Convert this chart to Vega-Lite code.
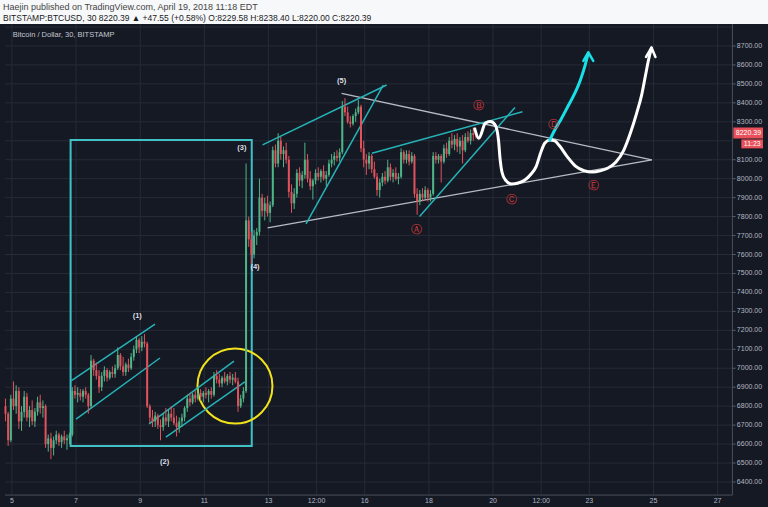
{
  "$schema": "https://vega.github.io/schema/vega-lite/v6.json",
  "width": 768,
  "height": 483,
  "autosize": {"type": "none"},
  "padding": {"left": 0, "top": 24, "right": 0, "bottom": 0},
  "background": "#f7f8fa",
  "config": {
    "view": {"fill": "#151924", "stroke": null},
    "font": "Liberation Sans",
    "axis": {"disable": true}
  },
  "title": {
    "text": "Haejin published on TradingView.com, April 19, 2018 11:18 EDT",
    "subtitle": "BITSTAMP:BTCUSD, 30  8220.39 ▲ +47.55 (+0.58%)  O:8229.58  H:8238.40  L:8220.00  C:8220.39",
    "anchor": "start", "frame": "group", "orient": "top", "offset": 1, "dx": 3,
    "font": "Liberation Sans", "fontSize": 9, "fontWeight": "normal", "color": "#444444",
    "subtitleFont": "Liberation Sans", "subtitleFontSize": 8.5, "subtitleFontWeight": "normal", "subtitleColor": "#1a1a1a", "subtitlePadding": 2
  },
  "datasets": {
    "candles": [
      {"t":4.8,"o":6800,"h":6840,"l":6720,"c":6760},
      {"t":4.883,"o":6760,"h":6770,"l":6590,"c":6620},
      {"t":4.967,"o":6620,"h":6860,"l":6610,"c":6840},
      {"t":5.05,"o":6840,"h":6930,"l":6780,"c":6800},
      {"t":5.133,"o":6800,"h":6910,"l":6760,"c":6880},
      {"t":5.217,"o":6880,"h":6900,"l":6680,"c":6720},
      {"t":5.3,"o":6720,"h":6800,"l":6670,"c":6770},
      {"t":5.383,"o":6770,"h":6880,"l":6740,"c":6850},
      {"t":5.467,"o":6850,"h":6870,"l":6720,"c":6740},
      {"t":5.55,"o":6740,"h":6800,"l":6690,"c":6780},
      {"t":5.633,"o":6780,"h":6830,"l":6700,"c":6720},
      {"t":5.717,"o":6720,"h":6790,"l":6690,"c":6770},
      {"t":5.8,"o":6770,"h":6850,"l":6750,"c":6820},
      {"t":5.883,"o":6820,"h":6860,"l":6760,"c":6790},
      {"t":5.967,"o":6790,"h":6830,"l":6740,"c":6800},
      {"t":6.05,"o":6800,"h":6810,"l":6580,"c":6600},
      {"t":6.133,"o":6600,"h":6650,"l":6560,"c":6630},
      {"t":6.217,"o":6630,"h":6660,"l":6520,"c":6580},
      {"t":6.3,"o":6580,"h":6640,"l":6540,"c":6620},
      {"t":6.383,"o":6620,"h":6670,"l":6600,"c":6650},
      {"t":6.467,"o":6650,"h":6660,"l":6590,"c":6610},
      {"t":6.55,"o":6610,"h":6650,"l":6580,"c":6640},
      {"t":6.633,"o":6640,"h":6670,"l":6600,"c":6620},
      {"t":6.717,"o":6620,"h":6650,"l":6570,"c":6630},
      {"t":6.8,"o":6630,"h":6660,"l":6600,"c":6650},
      {"t":6.883,"o":6650,"h":6900,"l":6640,"c":6880},
      {"t":6.967,"o":6880,"h":6910,"l":6840,"c":6860},
      {"t":7.05,"o":6860,"h":6900,"l":6820,"c":6870},
      {"t":7.133,"o":6870,"h":6890,"l":6830,"c":6850},
      {"t":7.217,"o":6850,"h":6890,"l":6820,"c":6880},
      {"t":7.3,"o":6880,"h":6900,"l":6840,"c":6860},
      {"t":7.383,"o":6860,"h":6870,"l":6760,"c":6800},
      {"t":7.467,"o":6800,"h":7070,"l":6790,"c":7040},
      {"t":7.55,"o":7040,"h":7050,"l":6960,"c":6990},
      {"t":7.633,"o":6990,"h":7030,"l":6940,"c":6960},
      {"t":7.717,"o":6960,"h":6990,"l":6870,"c":6900},
      {"t":7.8,"o":6900,"h":6980,"l":6880,"c":6960},
      {"t":7.883,"o":6960,"h":7010,"l":6930,"c":6990},
      {"t":7.967,"o":6990,"h":7000,"l":6930,"c":6950},
      {"t":8.05,"o":6950,"h":6990,"l":6940,"c":6980},
      {"t":8.133,"o":6980,"h":7010,"l":6950,"c":6970},
      {"t":8.217,"o":6970,"h":7020,"l":6950,"c":7000},
      {"t":8.3,"o":7000,"h":7110,"l":6990,"c":7070},
      {"t":8.383,"o":7070,"h":7080,"l":6990,"c":7010},
      {"t":8.467,"o":7010,"h":7060,"l":6960,"c":6980},
      {"t":8.55,"o":6980,"h":7030,"l":6960,"c":7020},
      {"t":8.633,"o":7020,"h":7050,"l":6980,"c":7000},
      {"t":8.717,"o":7000,"h":7080,"l":6990,"c":7060},
      {"t":8.8,"o":7060,"h":7120,"l":7040,"c":7100},
      {"t":8.883,"o":7100,"h":7170,"l":7080,"c":7150},
      {"t":8.967,"o":7150,"h":7160,"l":7080,"c":7110},
      {"t":9.05,"o":7110,"h":7170,"l":7090,"c":7140},
      {"t":9.133,"o":7140,"h":7180,"l":7110,"c":7130},
      {"t":9.217,"o":7130,"h":7140,"l":6790,"c":6800},
      {"t":9.3,"o":6800,"h":6810,"l":6710,"c":6740},
      {"t":9.383,"o":6740,"h":6780,"l":6690,"c":6720},
      {"t":9.467,"o":6720,"h":6770,"l":6690,"c":6750},
      {"t":9.55,"o":6750,"h":6760,"l":6680,"c":6700},
      {"t":9.633,"o":6700,"h":6730,"l":6620,"c":6690},
      {"t":9.717,"o":6690,"h":6760,"l":6670,"c":6740},
      {"t":9.8,"o":6740,"h":6790,"l":6700,"c":6720},
      {"t":9.883,"o":6720,"h":6780,"l":6690,"c":6760},
      {"t":9.967,"o":6760,"h":6800,"l":6720,"c":6740},
      {"t":10.05,"o":6740,"h":6790,"l":6700,"c":6710},
      {"t":10.133,"o":6710,"h":6750,"l":6640,"c":6690},
      {"t":10.217,"o":6690,"h":6740,"l":6660,"c":6720},
      {"t":10.3,"o":6720,"h":6760,"l":6690,"c":6740},
      {"t":10.383,"o":6740,"h":6800,"l":6720,"c":6790},
      {"t":10.467,"o":6790,"h":6860,"l":6770,"c":6840},
      {"t":10.55,"o":6840,"h":6870,"l":6800,"c":6820},
      {"t":10.633,"o":6820,"h":6870,"l":6810,"c":6860},
      {"t":10.717,"o":6860,"h":6880,"l":6820,"c":6840},
      {"t":10.8,"o":6840,"h":6890,"l":6830,"c":6870},
      {"t":10.883,"o":6870,"h":6890,"l":6830,"c":6850},
      {"t":10.967,"o":6850,"h":6880,"l":6820,"c":6870},
      {"t":11.05,"o":6870,"h":6900,"l":6840,"c":6860},
      {"t":11.133,"o":6860,"h":6890,"l":6820,"c":6880},
      {"t":11.217,"o":6880,"h":6900,"l":6840,"c":6860},
      {"t":11.3,"o":6860,"h":6980,"l":6850,"c":6960},
      {"t":11.383,"o":6960,"h":6990,"l":6920,"c":6940},
      {"t":11.467,"o":6940,"h":6970,"l":6900,"c":6920},
      {"t":11.55,"o":6920,"h":6960,"l":6900,"c":6950},
      {"t":11.633,"o":6950,"h":6980,"l":6920,"c":6930},
      {"t":11.717,"o":6930,"h":6970,"l":6910,"c":6960},
      {"t":11.8,"o":6960,"h":6980,"l":6920,"c":6940},
      {"t":11.883,"o":6940,"h":6970,"l":6910,"c":6950},
      {"t":11.967,"o":6950,"h":6980,"l":6920,"c":6930},
      {"t":12.05,"o":6930,"h":6950,"l":6770,"c":6800},
      {"t":12.133,"o":6800,"h":6860,"l":6790,"c":6840},
      {"t":12.217,"o":6840,"h":6900,"l":6820,"c":6880},
      {"t":12.3,"o":6880,"h":8080,"l":6870,"c":7780},
      {"t":12.383,"o":7780,"h":7800,"l":7640,"c":7680},
      {"t":12.467,"o":7680,"h":7720,"l":7550,"c":7600},
      {"t":12.55,"o":7600,"h":7730,"l":7580,"c":7700},
      {"t":12.633,"o":7700,"h":7740,"l":7650,"c":7720},
      {"t":12.717,"o":7720,"h":8000,"l":7700,"c":7900},
      {"t":12.8,"o":7900,"h":7920,"l":7800,"c":7830},
      {"t":12.883,"o":7830,"h":7900,"l":7780,"c":7870},
      {"t":12.967,"o":7870,"h":7910,"l":7800,"c":7820},
      {"t":13.05,"o":7820,"h":7880,"l":7770,"c":7860},
      {"t":13.133,"o":7860,"h":8170,"l":7850,"c":8150},
      {"t":13.217,"o":8150,"h":8180,"l":8060,"c":8080},
      {"t":13.3,"o":8080,"h":8240,"l":8060,"c":8200},
      {"t":13.383,"o":8200,"h":8220,"l":8100,"c":8130},
      {"t":13.467,"o":8130,"h":8170,"l":8060,"c":8150},
      {"t":13.55,"o":8150,"h":8190,"l":8080,"c":8100},
      {"t":13.633,"o":8100,"h":8120,"l":7900,"c":7930},
      {"t":13.717,"o":7930,"h":7970,"l":7820,"c":7870},
      {"t":13.8,"o":7870,"h":7950,"l":7840,"c":7920},
      {"t":13.883,"o":7920,"h":8050,"l":7900,"c":8030},
      {"t":13.967,"o":8030,"h":8060,"l":7960,"c":7990},
      {"t":14.05,"o":7990,"h":8040,"l":7950,"c":8020},
      {"t":14.133,"o":8020,"h":8190,"l":8000,"c":8100},
      {"t":14.217,"o":8100,"h":8130,"l":7980,"c":8000},
      {"t":14.3,"o":8000,"h":8040,"l":7940,"c":7960},
      {"t":14.383,"o":7960,"h":8000,"l":7890,"c":7990},
      {"t":14.467,"o":7990,"h":8050,"l":7970,"c":8030},
      {"t":14.55,"o":8030,"h":8060,"l":7990,"c":8010},
      {"t":14.633,"o":8010,"h":8050,"l":7980,"c":8040},
      {"t":14.717,"o":8040,"h":8070,"l":7990,"c":8000},
      {"t":14.8,"o":8000,"h":8040,"l":7960,"c":8020},
      {"t":14.883,"o":8020,"h":8100,"l":8010,"c":8080},
      {"t":14.967,"o":8080,"h":8130,"l":8060,"c":8100},
      {"t":15.05,"o":8100,"h":8140,"l":8070,"c":8120},
      {"t":15.133,"o":8120,"h":8150,"l":8090,"c":8110},
      {"t":15.217,"o":8110,"h":8160,"l":8090,"c":8140},
      {"t":15.3,"o":8140,"h":8410,"l":8130,"c":8380},
      {"t":15.383,"o":8380,"h":8425,"l":8330,"c":8350},
      {"t":15.467,"o":8350,"h":8380,"l":8290,"c":8300},
      {"t":15.55,"o":8300,"h":8330,"l":8270,"c":8290},
      {"t":15.633,"o":8290,"h":8340,"l":8280,"c":8330},
      {"t":15.717,"o":8330,"h":8370,"l":8300,"c":8350},
      {"t":15.8,"o":8350,"h":8415,"l":8340,"c":8380},
      {"t":15.883,"o":8380,"h":8390,"l":8140,"c":8160},
      {"t":15.967,"o":8160,"h":8200,"l":8060,"c":8100},
      {"t":16.05,"o":8100,"h":8130,"l":8020,"c":8080},
      {"t":16.133,"o":8080,"h":8140,"l":8050,"c":8120},
      {"t":16.217,"o":8120,"h":8130,"l":8030,"c":8050},
      {"t":16.3,"o":8050,"h":8090,"l":8000,"c":8010},
      {"t":16.383,"o":8010,"h":8030,"l":7910,"c":7940},
      {"t":16.467,"o":7940,"h":8000,"l":7900,"c":7980},
      {"t":16.55,"o":7980,"h":8030,"l":7960,"c":8010},
      {"t":16.633,"o":8010,"h":8040,"l":7970,"c":7990},
      {"t":16.717,"o":7990,"h":8100,"l":7980,"c":8060},
      {"t":16.8,"o":8060,"h":8080,"l":7990,"c":8010},
      {"t":16.883,"o":8010,"h":8050,"l":7980,"c":8030},
      {"t":16.967,"o":8030,"h":8060,"l":7990,"c":8000},
      {"t":17.05,"o":8000,"h":8030,"l":7970,"c":8010},
      {"t":17.133,"o":8010,"h":8160,"l":8000,"c":8140},
      {"t":17.217,"o":8140,"h":8150,"l":8080,"c":8100},
      {"t":17.3,"o":8100,"h":8150,"l":8080,"c":8130},
      {"t":17.383,"o":8130,"h":8150,"l":8070,"c":8090},
      {"t":17.467,"o":8090,"h":8140,"l":8080,"c":8120},
      {"t":17.55,"o":8120,"h":8130,"l":7900,"c":7920},
      {"t":17.633,"o":7920,"h":7950,"l":7810,"c":7880},
      {"t":17.717,"o":7880,"h":7940,"l":7860,"c":7920},
      {"t":17.8,"o":7920,"h":7950,"l":7880,"c":7900},
      {"t":17.883,"o":7900,"h":7960,"l":7890,"c":7940},
      {"t":17.967,"o":7940,"h":7950,"l":7880,"c":7900},
      {"t":18.05,"o":7900,"h":7940,"l":7880,"c":7920},
      {"t":18.133,"o":7920,"h":8140,"l":7910,"c":8120},
      {"t":18.217,"o":8120,"h":8140,"l":8080,"c":8100},
      {"t":18.3,"o":8100,"h":8130,"l":8080,"c":8120},
      {"t":18.383,"o":8120,"h":8130,"l":7980,"c":8090},
      {"t":18.467,"o":8090,"h":8180,"l":8080,"c":8160},
      {"t":18.55,"o":8160,"h":8190,"l":8110,"c":8130},
      {"t":18.633,"o":8130,"h":8220,"l":8120,"c":8200},
      {"t":18.717,"o":8200,"h":8240,"l":8160,"c":8180},
      {"t":18.8,"o":8180,"h":8230,"l":8150,"c":8210},
      {"t":18.883,"o":8210,"h":8240,"l":8140,"c":8170},
      {"t":18.967,"o":8170,"h":8220,"l":8130,"c":8200},
      {"t":19.05,"o":8200,"h":8230,"l":8080,"c":8150},
      {"t":19.133,"o":8150,"h":8240,"l":8140,"c":8220},
      {"t":19.217,"o":8220,"h":8250,"l":8190,"c":8200},
      {"t":19.3,"o":8200,"h":8260,"l":8180,"c":8240},
      {"t":19.383,"o":8240,"h":8270,"l":8200,"c":8230},
      {"t":19.467,"o":8230,"h":8250,"l":8210,"c":8220}
    ],
    "hgrid": [{"p":6400},{"p":6500},{"p":6600},{"p":6700},{"p":6800},{"p":6900},{"p":7000},{"p":7100},{"p":7200},{"p":7300},{"p":7400},{"p":7500},{"p":7600},{"p":7700},{"p":7800},{"p":7900},{"p":8000},{"p":8100},{"p":8200},{"p":8300},{"p":8400},{"p":8500},{"p":8600},{"p":8700},{"p":8800}],
    "ylabels": [{"p":6400},{"p":6500},{"p":6600},{"p":6700},{"p":6800},{"p":6900},{"p":7000},{"p":7100},{"p":7200},{"p":7300},{"p":7400},{"p":7500},{"p":7600},{"p":7700},{"p":7800},{"p":7900},{"p":8000},{"p":8100},{"p":8300},{"p":8400},{"p":8500},{"p":8600},{"p":8700}],
    "vgrid": [{"t":5},{"t":7},{"t":9},{"t":11},{"t":13},{"t":14.5},{"t":16},{"t":18},{"t":20},{"t":21.5},{"t":23},{"t":25},{"t":27}],
    "xlabels": [
      {"t":5,"label":"5"},{"t":7,"label":"7"},{"t":9,"label":"9"},{"t":11,"label":"11"},{"t":13,"label":"13"},
      {"t":14.5,"label":"12:00"},{"t":16,"label":"16"},{"t":18,"label":"18"},{"t":20,"label":"20"},
      {"t":21.5,"label":"12:00"},{"t":23,"label":"23"},{"t":25,"label":"25"},{"t":27,"label":"27"}
    ],
    "teal": [
      {"id":"a","t":6.846,"p":6933},{"id":"a","t":9.462,"p":7233},
      {"id":"b","t":7.0,"p":6732},{"id":"b","t":9.615,"p":7054},
      {"id":"c","t":9.277,"p":6706},{"id":"c","t":11.923,"p":7038},
      {"id":"d","t":9.8,"p":6637},{"id":"d","t":12.262,"p":6928},
      {"id":"e","t":12.815,"p":8178},{"id":"e","t":16.683,"p":8494},
      {"id":"f","t":14.169,"p":7761},{"id":"f","t":16.578,"p":8494},
      {"id":"g","t":16.222,"p":8134},{"id":"g","t":20.917,"p":8353},
      {"id":"h","t":17.708,"p":7800},{"id":"h","t":20.683,"p":8376}
    ],
    "gray": [
      {"id":"u","t":15.277,"p":8450},{"id":"u","t":24.95,"p":8099},
      {"id":"l","t":12.969,"p":7741},{"id":"l","t":24.95,"p":8099}
    ],
    "white": [
      {"i":0,"t":19.43,"p":8263},{"i":1,"t":19.554,"p":8213},{"i":2,"t":19.76,"p":8292},{"i":3,"t":19.914,"p":8301},
      {"i":4,"t":20.068,"p":8283},{"i":5,"t":20.169,"p":8204},{"i":6,"t":20.222,"p":8099},{"i":7,"t":20.277,"p":8035},
      {"i":8,"t":20.385,"p":7993},{"i":9,"t":20.578,"p":7972},{"i":10,"t":20.785,"p":7977},{"i":11,"t":20.991,"p":7993},
      {"i":12,"t":21.185,"p":8025},{"i":13,"t":21.338,"p":8062},{"i":14,"t":21.492,"p":8141},{"i":15,"t":21.615,"p":8188},
      {"i":16,"t":21.769,"p":8204},{"i":17,"t":21.923,"p":8199},{"i":18,"t":22.077,"p":8172},{"i":19,"t":22.323,"p":8114},
      {"i":20,"t":22.569,"p":8066},{"i":21,"t":22.837,"p":8042},{"i":22,"t":23.092,"p":8035},{"i":23,"t":23.338,"p":8041},
      {"i":24,"t":23.585,"p":8056},{"i":25,"t":23.831,"p":8088},{"i":26,"t":24.077,"p":8151},{"i":27,"t":24.292,"p":8246},
      {"i":28,"t":24.477,"p":8346},{"i":29,"t":24.631,"p":8441},{"i":30,"t":24.754,"p":8547},{"i":31,"t":24.846,"p":8626},
      {"i":32,"t":24.938,"p":8689}
    ],
    "cyan": [
      {"i":0,"t":21.769,"p":8204},{"i":1,"t":21.923,"p":8257},{"i":2,"t":22.108,"p":8310},{"i":3,"t":22.323,"p":8378},
      {"i":4,"t":22.538,"p":8447},{"i":5,"t":22.723,"p":8521},{"i":6,"t":22.862,"p":8594},{"i":7,"t":22.969,"p":8663}
    ],
    "whiteHead": [{"i":0,"t":24.769,"p":8642},{"i":1,"t":24.938,"p":8692},{"i":2,"t":25.062,"p":8642}],
    "cyanHead": [{"i":0,"t":22.815,"p":8621},{"i":1,"t":22.969,"p":8666},{"i":2,"t":23.123,"p":8621}],
    "waves": [
      {"label":"(1)","t":8.908,"p":7276},{"label":"(2)","t":9.76,"p":6504},{"label":"(3)","t":12.169,"p":8163},
      {"label":"(4)","t":12.579,"p":7536},{"label":"(5)","t":15.277,"p":8515}
    ],
    "letters": [
      {"label":"Ⓐ","t":17.606,"p":7729},{"label":"Ⓑ","t":19.554,"p":8383},{"label":"Ⓒ","t":20.579,"p":7888},
      {"label":"Ⓓ","t":21.87,"p":8283},{"label":"Ⓔ","t":23.123,"p":7961}
    ]
  },
  "layer": [
    {
      "data": {"name": "hgrid"},
      "mark": {"type": "rule", "color": "#262b37", "strokeWidth": 1},
      "encoding": {
        "y": {"field": "p", "type": "quantitative", "title": null, "scale": {"domain": [6268, 8816], "nice": false, "zero": false}},
        "x": {"datum": 4.785, "type": "quantitative", "title": null, "scale": {"domain": [4.785, 28.415], "nice": false, "zero": false}},
        "x2": {"datum": 27.4615}
      }
    },
    {
      "data": {"name": "vgrid"},
      "mark": {"type": "rule", "color": "#262b37", "strokeWidth": 1},
      "encoding": {
        "x": {"field": "t", "type": "quantitative", "title": null},
        "y": {"datum": 6331, "type": "quantitative", "title": null},
        "y2": {"datum": 8816}
      }
    },
    {
      "data": {"values": [{"t": 27.4615, "p1": 6331, "p2": 8816}]},
      "mark": {"type": "rule", "color": "#4a4f5c", "strokeWidth": 1},
      "encoding": {
        "x": {"field": "t", "type": "quantitative", "title": null},
        "y": {"field": "p1", "type": "quantitative", "title": null},
        "y2": {"field": "p2"}
      }
    },
    {
      "data": {"values": [{"t1": 4.785, "t2": 27.4615, "p": 6331}]},
      "mark": {"type": "rule", "color": "#4a4f5c", "strokeWidth": 1},
      "encoding": {
        "x": {"field": "t1", "type": "quantitative", "title": null},
        "x2": {"field": "t2"},
        "y": {"field": "p", "type": "quantitative", "title": null}
      }
    },
    {
      "data": {"name": "ylabels"},
      "mark": {"type": "rule", "color": "#5a5f6c", "strokeWidth": 1},
      "encoding": {
        "y": {"field": "p", "type": "quantitative", "title": null},
        "x": {"datum": 27.4615, "type": "quantitative", "title": null},
        "x2": {"datum": 27.56}
      }
    },
    {
      "data": {"name": "ylabels"},
      "mark": {"type": "text", "color": "#b4b8c2", "fontSize": 7, "align": "left", "baseline": "middle", "font": "Liberation Sans"},
      "encoding": {
        "y": {"field": "p", "type": "quantitative", "title": null},
        "x": {"datum": 27.6, "type": "quantitative", "title": null},
        "text": {"field": "p", "type": "quantitative", "format": ".2f"}
      }
    },
    {
      "data": {"name": "xlabels"},
      "mark": {"type": "text", "color": "#b4b8c2", "fontSize": 7, "align": "center", "baseline": "middle", "font": "Liberation Sans"},
      "encoding": {
        "x": {"field": "t", "type": "quantitative", "title": null},
        "y": {"datum": 6298, "type": "quantitative", "title": null},
        "text": {"field": "label"}
      }
    },
    {
      "data": {"values": [{"t1": 6.83, "t2": 12.477, "p1": 6590, "p2": 8204}]},
      "mark": {"type": "rect", "fillOpacity": 0, "stroke": "#3fc1c6", "strokeWidth": 2},
      "encoding": {
        "x": {"field": "t1", "type": "quantitative", "title": null},
        "x2": {"field": "t2"},
        "y": {"field": "p1", "type": "quantitative", "title": null},
        "y2": {"field": "p2"}
      }
    },
    {
      "data": {"values": [{"t": 11.954, "p": 6906}]},
      "mark": {"type": "point", "shape": "circle", "size": 5625, "filled": false, "stroke": "#f2e21c", "strokeWidth": 2, "opacity": 1},
      "encoding": {
        "x": {"field": "t", "type": "quantitative", "title": null},
        "y": {"field": "p", "type": "quantitative", "title": null}
      }
    },
    {
      "data": {"name": "gray"},
      "mark": {"type": "line", "color": "#b9bcc4", "strokeWidth": 1.3},
      "encoding": {
        "x": {"field": "t", "type": "quantitative", "title": null},
        "y": {"field": "p", "type": "quantitative", "title": null},
        "detail": {"field": "id"}
      }
    },
    {
      "data": {"name": "teal"},
      "mark": {"type": "line", "color": "#26b3b8", "strokeWidth": 1.5},
      "encoding": {
        "x": {"field": "t", "type": "quantitative", "title": null},
        "y": {"field": "p", "type": "quantitative", "title": null},
        "detail": {"field": "id"}
      }
    },
    {
      "data": {"name": "candles"},
      "mark": {"type": "rule", "strokeWidth": 1},
      "encoding": {
        "x": {"field": "t", "type": "quantitative", "title": null},
        "y": {"field": "l", "type": "quantitative", "title": null},
        "y2": {"field": "h"},
        "color": {"condition": {"test": "datum.c >= datum.o", "value": "#4fb587"}, "value": "#e0525c"}
      }
    },
    {
      "data": {"name": "candles"},
      "mark": {"type": "bar", "size": 2},
      "encoding": {
        "x": {"field": "t", "type": "quantitative", "title": null},
        "y": {"field": "o", "type": "quantitative", "title": null},
        "y2": {"field": "c"},
        "color": {"condition": {"test": "datum.c >= datum.o", "value": "#4fb587"}, "value": "#e0525c"}
      }
    },
    {
      "data": {"name": "white"},
      "mark": {"type": "line", "color": "#ffffff", "strokeWidth": 3, "interpolate": "monotone", "strokeCap": "round"},
      "encoding": {
        "x": {"field": "t", "type": "quantitative", "title": null},
        "y": {"field": "p", "type": "quantitative", "title": null},
        "order": {"field": "i"}
      }
    },
    {
      "data": {"name": "cyan"},
      "mark": {"type": "line", "color": "#19e0e6", "strokeWidth": 3, "interpolate": "monotone", "strokeCap": "round"},
      "encoding": {
        "x": {"field": "t", "type": "quantitative", "title": null},
        "y": {"field": "p", "type": "quantitative", "title": null},
        "order": {"field": "i"}
      }
    },
    {
      "data": {"name": "whiteHead"},
      "mark": {"type": "line", "color": "#ffffff", "strokeWidth": 2.5, "strokeCap": "round", "strokeJoin": "round"},
      "encoding": {
        "x": {"field": "t", "type": "quantitative", "title": null},
        "y": {"field": "p", "type": "quantitative", "title": null},
        "order": {"field": "i"}
      }
    },
    {
      "data": {"name": "cyanHead"},
      "mark": {"type": "line", "color": "#19e0e6", "strokeWidth": 2.5, "strokeCap": "round", "strokeJoin": "round"},
      "encoding": {
        "x": {"field": "t", "type": "quantitative", "title": null},
        "y": {"field": "p", "type": "quantitative", "title": null},
        "order": {"field": "i"}
      }
    },
    {
      "data": {"name": "waves"},
      "mark": {"type": "text", "color": "#dcdde2", "fontSize": 7.5, "fontWeight": "bold", "font": "Liberation Sans"},
      "encoding": {
        "x": {"field": "t", "type": "quantitative", "title": null},
        "y": {"field": "p", "type": "quantitative", "title": null},
        "text": {"field": "label"}
      }
    },
    {
      "data": {"name": "letters"},
      "mark": {"type": "text", "color": "#d93a3a", "fontSize": 11, "font": "DejaVu Sans"},
      "encoding": {
        "x": {"field": "t", "type": "quantitative", "title": null},
        "y": {"field": "p", "type": "quantitative", "title": null},
        "text": {"field": "label"}
      }
    },
    {
      "data": {"values": [{"label": "Bitcoin / Dollar, 30, BITSTAMP", "t": 5.03, "p": 8758}]},
      "mark": {"type": "text", "color": "#c4c7cf", "fontSize": 7.5, "align": "left", "font": "Liberation Sans"},
      "encoding": {
        "x": {"field": "t", "type": "quantitative", "title": null},
        "y": {"field": "p", "type": "quantitative", "title": null},
        "text": {"field": "label"}
      }
    },
    {
      "data": {"values": [{"t1": 27.49, "t2": 28.415, "p1": 8212, "p2": 8270}, {"t1": 27.74, "t2": 28.415, "p1": 8160, "p2": 8207}]},
      "mark": {"type": "rect", "color": "#e8505a"},
      "encoding": {
        "x": {"field": "t1", "type": "quantitative", "title": null},
        "x2": {"field": "t2"},
        "y": {"field": "p1", "type": "quantitative", "title": null},
        "y2": {"field": "p2"}
      }
    },
    {
      "data": {"values": [{"label": "8220.39", "t": 27.96, "p": 8241}, {"label": "11:23", "t": 28.08, "p": 8184}]},
      "mark": {"type": "text", "color": "#ffffff", "fontSize": 7, "font": "Liberation Sans"},
      "encoding": {
        "x": {"field": "t", "type": "quantitative", "title": null},
        "y": {"field": "p", "type": "quantitative", "title": null},
        "text": {"field": "label"}
      }
    }
  ]
}
